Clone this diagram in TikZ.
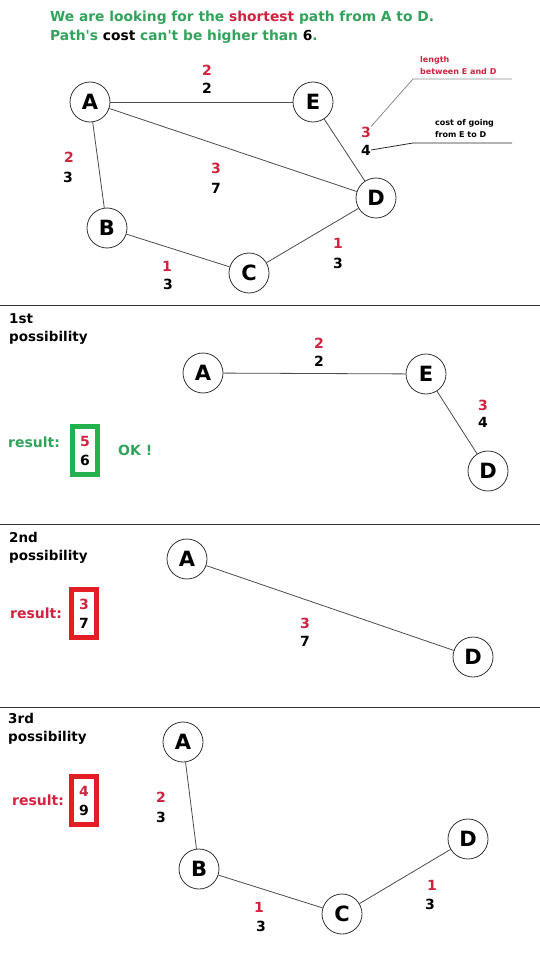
\documentclass[tikz,border=0pt]{standalone}
\usepackage{fontspec}
\setmainfont{DejaVu Sans}
\definecolor{hgreen}{HTML}{33A35C}
\definecolor{hred}{HTML}{D0233F}
\definecolor{bgreen}{HTML}{22B14C}
\definecolor{bred}{HTML}{E31E24}
\begin{document}
\begin{tikzpicture}[x=1pt,y=-1pt,
  v/.style={circle, draw=black!80, line width=0.8pt, minimum size=40pt, inner sep=0pt, fill=white, font=\bfseries\fontsize{21}{21}\selectfont},
  e/.style={draw=black!70, line width=0.8pt},
  nr/.style={text=hred, inner sep=0pt, font=\bfseries\fontsize{14}{14}\selectfont},
  nb/.style={text=black, inner sep=0pt, font=\bfseries\fontsize{14}{14}\selectfont},
  ttl/.style={anchor=west, inner sep=0pt, font=\bfseries\fontsize{13.5}{18}\selectfont, align=left},
  res/.style={anchor=west, inner sep=0pt, font=\bfseries\fontsize{14}{14}\selectfont},
  rbox/.style={line width=5pt, minimum width=25pt, minimum height=48pt, inner sep=0pt, align=center, font=\bfseries\fontsize{14}{19}\selectfont},
  sep/.style={draw=black!80, line width=1pt}
]
\useasboundingbox (0,0) rectangle (540,968);
\fill[white] (0,0) rectangle (540,968);

% header
\node[anchor=west, inner sep=0pt, font=\bfseries\fontsize{13.8}{13.8}\selectfont, text=hgreen] (h1) at (50,18)
  {We are looking for the \textcolor{hred}{shortest} path from A to D.};
\node[anchor=west, inner sep=0pt, font=\bfseries\fontsize{13.8}{13.8}\selectfont, text=hgreen] (h2) at (50,37)
  {Path\textquotesingle s \textcolor{black}{cost} can\textquotesingle t be higher than \textcolor{black}{6}.};

% top graph
\node[v] (A) at (90,102) {A};
\node[v] (E) at (313,102) {E};
\node[v] (D) at (376,198) {D};
\node[v] (B) at (107,228) {B};
\node[v] (C) at (249,273) {C};
\draw[e] (A) -- (E);
\draw[e] (A) -- (B);
\draw[e] (A) -- (D);
\draw[e] (E) -- (D);
\draw[e] (B) -- (C);
\draw[e] (C) -- (D);
\node[nr] (ae1) at (207,70) {2};
\node[nb] (ae2) at (207,88) {2};
\node[nr] (ab1) at (69,157) {2};
\node[nb] (ab2) at (68,177) {3};
\node[nr] (ad1) at (216,168) {3};
\node[nb] (ad2) at (216,188) {7};
\node[nr] (bc1) at (167,266) {1};
\node[nb] (bc2) at (168,284) {3};
\node[nr] (cd1) at (338,243) {1};
\node[nb] (cd2) at (338,263) {3};
\node[nr] (ed1) at (366,132) {3};
\node[nb] (ed2) at (366,150) {4};

% annotations
\node[anchor=west, inner sep=0pt, align=left, text=hred, font=\bfseries\fontsize{8}{12}\selectfont] (ann1) at (420,66) {length\\between E and D};
\node[anchor=west, inner sep=0pt, align=left, text=black, font=\bfseries\fontsize{8}{12}\selectfont] (ann2) at (435,129) {cost of going\\from E to D};
\coordinate (k1) at (413,79);
\coordinate (k2) at (512,79);
\coordinate (k3) at (413,143);
\coordinate (k4) at (512,143);
\draw[draw=black!45, line width=0.8pt] (ed1.north east) -- (k1) -- (k2);
\draw[draw=black!85, line width=0.8pt] (ed2.east) -- (k3) -- (k4);

% separators
\coordinate (s1a) at (0,305); \coordinate (s1b) at (540,305);
\coordinate (s2a) at (0,524); \coordinate (s2b) at (540,524);
\coordinate (s3a) at (0,707); \coordinate (s3b) at (540,707);
\draw[sep] (s1a) -- (s1b);
\draw[sep] (s2a) -- (s2b);
\draw[sep] (s3a) -- (s3b);

% 1st possibility
\node[ttl] (t1) at (9,329) {1st\\possibility};
\node[v] (A1) at (203,373) {A};
\node[v] (E1) at (426,374) {E};
\node[v] (D1) at (488,471) {D};
\draw[e] (A1) -- (E1);
\draw[e] (E1) -- (D1);
\node[nr] (p1a) at (319,343) {2};
\node[nb] (p1b) at (319,361) {2};
\node[nr] (p1c) at (483,405) {3};
\node[nb] (p1d) at (483,422) {4};
\node[res, text=hgreen] (r1) at (8,442) {result:};
\node[rbox, draw=bgreen] (b1) at (85,450.5) {\textcolor{hred}{5}\\6};
\node[res, text=hgreen] (ok) at (118,450) {OK !};

% 2nd possibility
\node[ttl] (t2) at (9,548) {2nd\\possibility};
\node[v] (A2) at (187,559) {A};
\node[v] (D2) at (473,657) {D};
\draw[e] (A2) -- (D2);
\node[nr] (p2a) at (305,623) {3};
\node[nb] (p2b) at (305,641) {7};
\node[res, text=hred] (r2) at (10,613) {result:};
\node[rbox, draw=bred] (b2) at (84,613.5) {\textcolor{hred}{3}\\7};

% 3rd possibility
\node[ttl] (t3) at (8,729) {3rd\\possibility};
\node[v] (A3) at (183,742) {A};
\node[v] (B3) at (199,869) {B};
\node[v] (C3) at (342,914) {C};
\node[v] (D3) at (468,839) {D};
\draw[e] (A3) -- (B3);
\draw[e] (B3) -- (C3);
\draw[e] (C3) -- (D3);
\node[nr] (p3a) at (161,797) {2};
\node[nb] (p3b) at (161,817) {3};
\node[nr] (p3c) at (259,907) {1};
\node[nb] (p3d) at (261,926) {3};
\node[nr] (p3e) at (432,885) {1};
\node[nb] (p3f) at (430,904) {3};
\node[res, text=hred] (r3) at (12,800) {result:};
\node[rbox, draw=bred] (b3) at (84,800.5) {\textcolor{hred}{4}\\9};
\end{tikzpicture}
\end{document}
